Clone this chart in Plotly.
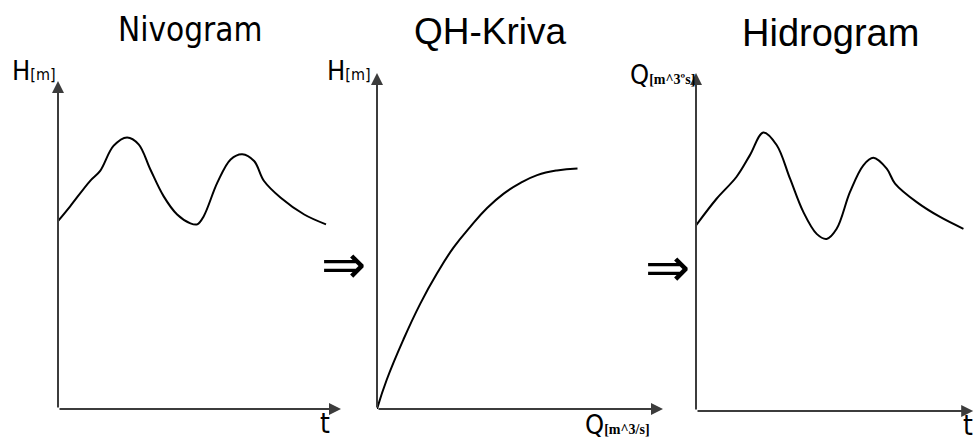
import plotly.graph_objects as go

W, H = 974, 441

# Nivogram: water level H over time t
niv_t = [0.0, 0.43, 1.13, 1.49, 1.96, 2.44, 2.85, 3.26, 3.73, 4.21, 4.68, 4.92,
         5.15, 5.63, 6.10, 6.51, 6.93, 7.28, 7.87, 8.70, 9.47]
niv_h = [5.73, 6.18, 6.95, 7.26, 8.02, 8.28, 8.07, 7.31, 6.49, 5.93, 5.66, 5.63,
         5.88, 6.90, 7.61, 7.77, 7.56, 6.95, 6.44, 5.93, 5.63]

# QH rating curve: level H against discharge Q
qh_q = [0.0, 0.34, 0.92, 1.51, 2.10, 2.68, 3.26, 3.85, 4.43, 5.02, 5.60, 6.29, 7.01]
qh_h = [0.0, 0.87, 2.06, 3.13, 4.04, 4.81, 5.42, 5.98, 6.41, 6.73, 6.96, 7.10, 7.16]

# Hidrogram: discharge Q over time t
hid_t = [0.0, 0.74, 1.46, 1.94, 2.42, 2.90, 3.38, 3.86, 4.34, 4.70, 5.06, 5.54,
         6.02, 6.38, 6.86, 7.16, 7.94, 8.78, 9.62]
hid_q = [5.49, 6.28, 6.93, 7.57, 8.24, 7.87, 6.88, 5.89, 5.24, 5.09, 5.39, 6.48,
         7.27, 7.49, 7.17, 6.73, 6.18, 5.74, 5.39]

titles = ["Nivogram", "QH-Kriva", "Hidrogram"]


def px_x(p):
    return p / W


def px_y(p):
    return 1 - p / H


# panel boxes in pixels: (left, right, bottom, top)
boxes = [(58, 341, 409, 81), (377, 663, 409, 73), (696, 974, 411, 73)]

fig = go.Figure()
series = [(niv_t, niv_h), (qh_q, qh_h), (hid_t, hid_q)]
smooth = [1.0, 1.3, 1.0]
layout = dict(
    width=W, height=H, margin=dict(l=0, r=0, t=0, b=0),
    paper_bgcolor="white", plot_bgcolor="white", showlegend=False,
)
annotations = []
axcol = "#3c3c3c"
for i, ((x, y), (l, r, b, t)) in enumerate(zip(series, boxes), start=1):
    xs = "" if i == 1 else str(i)
    fig.add_trace(go.Scatter(
        x=x, y=y, mode="lines",
        line=dict(color="black", width=2, shape="spline", smoothing=smooth[i - 1]),
        xaxis="x" + xs, yaxis="y" + xs, hoverinfo="skip"))
    axstyle = dict(showgrid=False, zeroline=False, showticklabels=False, ticks="", showline=False)
    layout["xaxis" + xs] = dict(domain=[px_x(l), min(px_x(r), 1.0)], range=[0, 10],
                                anchor="y" + xs, **axstyle)
    layout["yaxis" + xs] = dict(domain=[px_y(b), px_y(t)], range=[0, 10],
                                anchor="x" + xs, **axstyle)
    xd, yd = "x" + xs + " domain", "y" + xs + " domain"
    # axis arrows
    annotations.append(dict(xref=xd, yref=yd, axref=xd, ayref=yd, x=0, y=1, ax=0, ay=0,
                            text="", showarrow=True, arrowhead=2, arrowsize=1.2,
                            arrowwidth=2, arrowcolor=axcol, standoff=0, startstandoff=0))
    annotations.append(dict(xref=xd, yref=yd, axref=xd, ayref=yd, x=0.997 if i == 3 else 1, y=0, ax=0, ay=0,
                            text="", showarrow=True, arrowhead=2, arrowsize=1.2,
                            arrowwidth=2, arrowcolor=axcol, standoff=0, startstandoff=0))

narrow = "DejaVu Sans Condensed, Liberation Sans Narrow, Liberation Sans, Arial"
sans = "Liberation Sans, Arial, sans-serif"
serif = "Liberation Serif, Times New Roman, serif"


def label(text, x, y, size, family, xanchor="center", yanchor="middle"):
    annotations.append(dict(xref="paper", yref="paper", x=px_x(x), y=px_y(y), text=text,
                            showarrow=False, xanchor=xanchor, yanchor=yanchor,
                            font=dict(size=size, family=family, color="black")))


label(titles[0], 190, 29, 33, narrow)
label(titles[1], 491, 31, 37, sans)
label(titles[2], 830, 33, 38, sans)

small = "<span style='font-size:16px'>[m]</span>"
label("H" + small, 10, 70, 27, narrow, xanchor="left")
label("H" + small, 325, 70, 27, narrow, xanchor="left")
label("Q<span style='font-size:14px;font-family:Liberation Serif;font-weight:bold'>[m^3ºs]</span>",
      628, 74, 27, narrow, xanchor="left")
label("Q<span style='font-size:14px;font-family:Liberation Serif;font-weight:bold'>[m^3/s]</span>",
      583, 424, 27, narrow, xanchor="left")
label("t", 325, 423, 28, narrow)
label("t", 968, 425, 28, narrow)
label("⇒", 343, 264, 54, "DejaVu Sans")
label("⇒", 667, 267, 54, "DejaVu Sans")

layout["annotations"] = annotations
fig.update_layout(**layout)
fig.write_html("out.html")
